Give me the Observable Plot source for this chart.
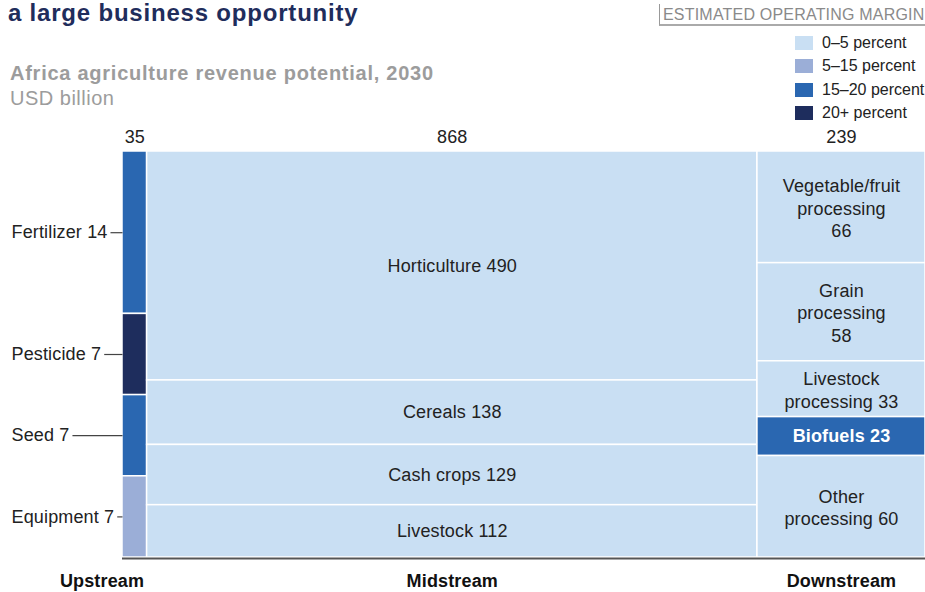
<!DOCTYPE html>
<html>
<head>
<meta charset="utf-8">
<script src="https://cdn.jsdelivr.net/npm/d3@7"></script>
<script src="https://cdn.jsdelivr.net/npm/@observablehq/plot@0.6"></script>
<style>
  html, body { margin: 0; padding: 0; background: #fff; }
  #wrap { position: relative; width: 925px; height: 592px; overflow: hidden; font-family: "Liberation Sans", Arial, sans-serif; }
  #title { position: absolute; left: 8px; top: -1px; line-height: 28px; font-size: 24px; font-weight: bold; color: #1f2d5c; letter-spacing: 0.8px; white-space: nowrap; }
  #subtitle { position: absolute; left: 10px; top: 63px; line-height: 20px; font-size: 20px; font-weight: bold; color: #9c9c9c; letter-spacing: 0.75px; white-space: nowrap; }
  #unit { position: absolute; left: 10px; top: 88px; line-height: 20px; font-size: 20px; color: #9c9c9c; letter-spacing: 0.5px; white-space: nowrap; }
  #legtitle { position: absolute; left: 659px; top: 4px; width: 266px; height: 22px; border-left: 1.5px solid #999; border-bottom: 2px solid #aaa; box-sizing: border-box; padding-left: 3px; line-height: 22px; font-size: 16px; color: #8a8a8a; letter-spacing: 0.2px; white-space: nowrap; }
  #legend { position: absolute; left: 795px; top: 36px; }
  .item { position: relative; height: 23.4px; }
  .sw { position: absolute; left: 0; top: 0; width: 18px; height: 14px; }
  .lab { position: absolute; left: 27px; top: -2px; line-height: 18px; font-size: 16px; color: #222; white-space: nowrap; }
  #chart { position: absolute; left: 0; top: 120px; }
</style>
</head>
<body>
<div id="wrap">
  <div id="title"></div>
  <div id="subtitle"></div>
  <div id="unit"></div>
  <div id="legtitle"></div>
  <div id="legend"></div>
  <div id="chart"></div>
</div>
<script>
// ---- Data ----
const titleText = "a large business opportunity";
const subtitleText = "Africa agriculture revenue potential, 2030";
const unitText = "USD billion";
const legendTitle = "ESTIMATED OPERATING MARGIN";

const columns = ["Upstream", "Midstream", "Downstream"];
const columnTotals = [35, 868, 239];

const marginCategories = ["0–5 percent", "5–15 percent", "15–20 percent", "20+ percent"];
const marginColors = ["#c9dff3", "#9baed7", "#2a67b1", "#1e2d5d"];

const upstreamNames = ["Fertilizer", "Pesticide", "Seed", "Equipment"];
const upstreamValues = [14, 7, 7, 7];
const upstreamMargins = ["15–20 percent", "20+ percent", "15–20 percent", "5–15 percent"];

const midstreamNames = ["Horticulture", "Cereals", "Cash crops", "Livestock"];
const midstreamValues = [490, 138, 129, 112];
const midstreamMargins = ["0–5 percent", "0–5 percent", "0–5 percent", "0–5 percent"];

const downstreamNames = ["Vegetable/fruit\nprocessing", "Grain\nprocessing", "Livestock\nprocessing", "Biofuels", "Other\nprocessing"];
const downstreamJoin = ["\n", "\n", " ", " ", " "];
const downstreamValues = [66, 58, 33, 23, 60];
const downstreamMargins = ["0–5 percent", "0–5 percent", "0–5 percent", "15–20 percent", "0–5 percent"];

// ---- Header & legend ----
document.getElementById("title").textContent = titleText;
document.getElementById("subtitle").textContent = subtitleText;
document.getElementById("unit").textContent = unitText;
document.getElementById("legtitle").textContent = legendTitle;
const leg = document.getElementById("legend");
marginCategories.forEach((c, i) => {
  const it = document.createElement("div"); it.className = "item";
  const sw = document.createElement("div"); sw.className = "sw"; sw.style.background = marginColors[i];
  const lb = document.createElement("div"); lb.className = "lab"; lb.textContent = c;
  it.appendChild(sw); it.appendChild(lb); leg.appendChild(it);
});

// ---- Build cells ----
const colStart = d3.cumsum([0, ...columnTotals]);
const total = d3.sum(columnTotals);
function buildCells(colIndex, names, values, margins, labelFn) {
  const s = d3.sum(values);
  let acc = 0;
  return names.map((n, i) => {
    const y0 = acc / s; acc += values[i]; const y1 = acc / s;
    return {
      column: columns[colIndex], name: n, value: values[i], margin: margins[i],
      x1: colStart[colIndex], x2: colStart[colIndex + 1],
      xc: (colStart[colIndex] + colStart[colIndex + 1]) / 2,
      y0, y1, yc: (y0 + y1) / 2,
      label: labelFn(n, values[i], i)
    };
  });
}
const upCells = buildCells(0, upstreamNames, upstreamValues, upstreamMargins, (n, v) => `${n} ${v}`);
const midCells = buildCells(1, midstreamNames, midstreamValues, midstreamMargins, (n, v) => `${n} ${v}`);
const downCells = buildCells(2, downstreamNames, downstreamValues, downstreamMargins, (n, v, i) => `${n}${downstreamJoin[i]}${v}`);
const cells = [...upCells, ...midCells, ...downCells];

const colData = columns.map((c, i) => ({column: c, total: columnTotals[i], xc: (colStart[i] + colStart[i + 1]) / 2, x1: colStart[i], x2: colStart[i + 1]}));

// ---- Leader lines for upstream labels ----
const W = 925, H = 472, mL = 122, mR = 0, mT = 31, mB = 35;
const xRange = [mL, W - mR];
const xs = d3.scaleLinear([0, total], xRange);
const FS = 18, LS = 0.15;
const ctx = document.createElement("canvas").getContext("2d");
ctx.font = `${FS}px "Liberation Sans"`;
const labelLeft = 11;
const leaders = upCells.map(d => {
  const w = ctx.measureText(d.label).width + LS * d.label.length;
  return {...d, lx1: xs.invert(labelLeft + w + 3), lx2: 0};
});

const font = '"Liberation Sans", Arial, sans-serif';
const plot = Plot.plot({
  width: W, height: H,
  marginLeft: mL, marginRight: mR, marginTop: mT, marginBottom: mB,
  style: {fontFamily: font, letterSpacing: LS + "px", background: "transparent"},
  x: {domain: [0, total], range: xRange, axis: null},
  y: {domain: [0, 1], reverse: true, axis: null},
  color: {domain: marginCategories, range: marginColors},
  marks: [
    Plot.rect(cells, {x1: "x1", x2: "x2", y1: "y0", y2: "y1", fill: "margin", stroke: "#ffffff", strokeWidth: 1.5}),
    Plot.ruleY([1], {stroke: "#555", strokeWidth: 2, dy: 1}),
    // column totals
    Plot.text(colData, {x: "xc", y: () => 0, text: d => String(d.total), dy: -14, fontSize: FS, fill: "#222"}),
    // bottom column names
    Plot.text(colData.slice(0, 1), {x: "x2", y: () => 1, text: "column", textAnchor: "end", dx: -3, dy: 24, fontSize: FS, fontWeight: "bold", fill: "#111"}),
    Plot.text(colData.slice(1), {x: "xc", y: () => 1, text: "column", dy: 24, fontSize: FS, fontWeight: "bold", fill: "#111"}),
    // upstream labels + leaders
    Plot.link(leaders, {x1: "lx1", x2: "lx2", y1: "yc", y2: "yc", stroke: "#444", strokeWidth: 1.2}),
    Plot.text(upCells, {x: () => 0, y: "yc", text: "label", textAnchor: "start", dx: labelLeft - mL, fontSize: FS, fill: "#222"}),
    // midstream labels
    Plot.text(midCells, {x: "xc", y: "yc", text: "label", fontSize: FS, fill: "#222"}),
    // downstream labels
    Plot.text(downCells.filter(d => d.margin === "0–5 percent"), {x: "xc", y: "yc", text: "label", fontSize: FS, lineHeight: 1.25, fill: "#222"}),
    Plot.text(downCells.filter(d => d.margin !== "0–5 percent"), {x: "xc", y: "yc", text: "label", fontSize: FS, fontWeight: "bold", fill: "#fff"})
  ]
});
document.getElementById("chart").appendChild(plot);
</script>
</body>
</html>
